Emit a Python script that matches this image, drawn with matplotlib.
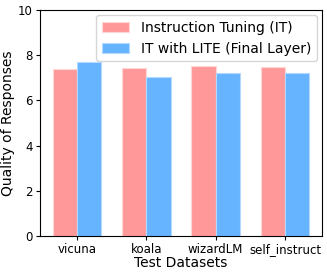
import matplotlib.pyplot as plt
import numpy as np

datasets = ["vicuna", "koala", "wizardLM", "self_instruct"]
it_scores = [7.36, 7.42, 7.51, 7.49]
lite_scores = [7.67, 7.05, 7.21, 7.21]

x = np.arange(len(datasets))
width = 0.35

fig, ax = plt.subplots(figsize=(3.27, 2.74), dpi=100)
ax.bar(x - width / 2, it_scores, width, color='#FF9999', edgecolor='#FFD6D6',
       linewidth=0.8, label='Instruction Tuning (IT)')
ax.bar(x + width / 2, lite_scores, width, color='#66B3FF', edgecolor='#B3D9FF',
       linewidth=0.8, label='IT with LITE (Final Layer)')

ax.set_xticks(x)
ax.set_xticklabels(datasets, fontsize=8.5)
ax.set_ylim(0, 10)
ax.tick_params(axis='y', labelsize=8.5, pad=2, length=3)
ax.tick_params(axis='x', pad=2, length=3)
ax.set_xlabel('Test Datasets', fontsize=10, labelpad=0)
ax.set_ylabel('Quality of Responses', fontsize=10, labelpad=2)
ax.legend(fontsize=10, loc='upper right', borderaxespad=0.4)

plt.subplots_adjust(left=0.122, right=0.985, top=0.965, bottom=0.137)
plt.savefig('out.png')
